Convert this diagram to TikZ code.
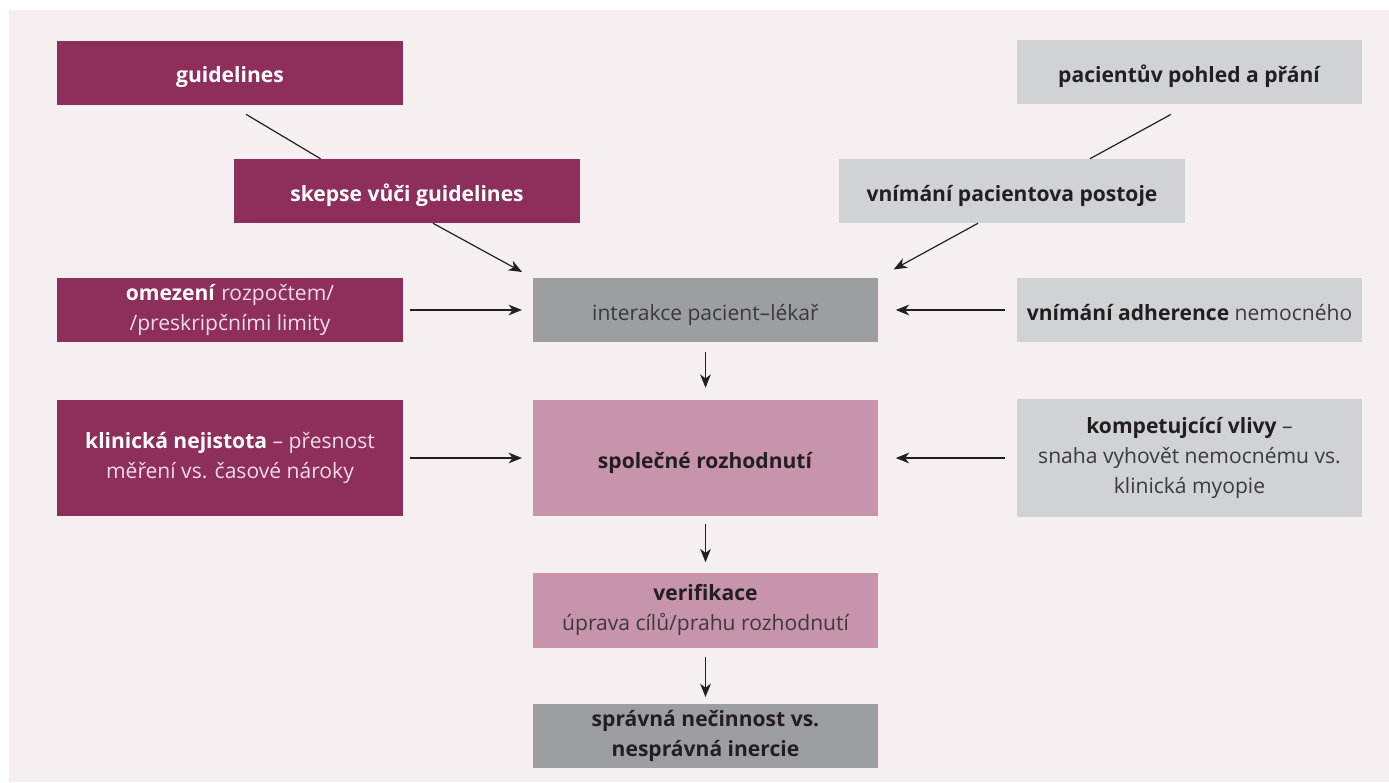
\documentclass[tikz,border=0pt]{standalone}
\usepackage{fontspec}
\setmainfont{Open Sans}
\usetikzlibrary{arrows.meta, calc}

\definecolor{wine}{HTML}{8E2F5B}
\definecolor{rose}{HTML}{C794AB}
\definecolor{lightgrey}{HTML}{D1D2D4}
\definecolor{midgrey}{HTML}{9D9EA0}
\definecolor{panel}{HTML}{F5EFF1}
\definecolor{paletext}{HTML}{EFDCE5}
\definecolor{darktext}{HTML}{231F20}
\definecolor{softtext}{HTML}{3C3A3B}

\newcommand{\wbold}[1]{\textcolor{white}{\textbf{#1}}}
\newcommand{\dbold}[1]{\textcolor{darktext}{\textbf{#1}}}

\tikzset{
    box/.style={inner sep=2pt, minimum width=259pt, minimum height=48pt,
        align=center, font=\fontsize{15.8}{22.5}\selectfont,
        execute at begin node={\rule[-4pt]{0pt}{23pt}}},
    winebox/.style={box, fill=wine, text=paletext},
    greybox/.style={box, fill=lightgrey, text=softtext},
    rosebox/.style={box, fill=rose, text=softtext},
    midbox/.style={box, fill=midgrey, text=softtext},
    link/.style={line width=0.9pt, draw=darktext},
    arrow/.style={link, -{Stealth[length=10pt, width=8pt, inset=3pt]}}
}

\begin{document}
\begin{tikzpicture}[x=0.75pt, y=-0.75pt]
    \useasboundingbox (0,0) rectangle (1389,782);
    \fill[white] (0,0) rectangle (1389,782);
    \fill[panel] (9,10) rectangle (1389,782);

    % left column
    \node[winebox] (guide) at (230,72.5) {\wbold{guidelines}};
    \node[winebox] (skepse) at (407,191) {\wbold{skepse vůči guidelines}};
    \node[winebox] (omezeni) at (230,310) {\wbold{omezení} rozpočtem/\\/preskripčními limity};
    \node[winebox, minimum height=87pt] (nejistota) at (230,458) {\wbold{klinická nejistota} – přesnost\\měření vs. časové nároky};

    % right column
    \node[greybox] (pohled) at (1189.5,72) {\dbold{pacientův pohled a přání}};
    \node[greybox] (postoj) at (1012,191) {\dbold{vnímání pacientova postoje}};
    \node[greybox] (adherence) at (1189.5,310) {\dbold{vnímání adherence} nemocného};
    \node[greybox, minimum height=88pt] (vlivy) at (1189.5,458) {\dbold{kompetujcící vlivy} –\\snaha vyhovět nemocnému vs.\\klinická myopie};

    % middle column
    \node[midbox] (interakce) at (705.5,310) {interakce pacient–lékař};
    \node[rosebox, minimum height=87pt] (rozhodnuti) at (705.5,458) {\dbold{společné rozhodnutí}};
    \node[rosebox, minimum height=56pt] (verifikace) at (705.5,610.5) {\dbold{verifikace}\\úprava cílů/prahu rozhodnutí};
    \node[midbox] (spravna) at (705.5,736) {\dbold{správná nečinnost vs.}\\\dbold{nesprávná inercie}};

    % connectors
    \draw[link, shorten <=14pt] (guide.south) -- ($(skepse.north west)!.25!(skepse.north east)$);
    \draw[link, shorten <=16pt] (pohled.south) -- ($(postoj.north)+(78,0)$);
    \draw[arrow, shorten >=9pt] ($(skepse.south)+(26,0)$) -- (interakce.north west);
    \draw[arrow, shorten >=13pt] ($(postoj.south)-(34,0)$) -- (interakce.north east);
    \draw[arrow, shorten <=5pt, shorten >=8pt] (omezeni.east) -- (interakce.west);
    \draw[arrow, shorten <=9pt, shorten >=13pt] (adherence.west) -- (interakce.east);
    \draw[arrow, shorten <=5pt, shorten >=8pt] (nejistota.east) -- (rozhodnuti.west);
    \draw[arrow, shorten <=9pt, shorten >=13pt] (vlivy.west) -- (rozhodnuti.east);
    \draw[arrow, shorten <=7.5pt, shorten >=9pt] (interakce.south) -- (rozhodnuti.north);
    \draw[arrow, shorten <=6pt, shorten >=8pt] (rozhodnuti.south) -- (verifikace.north);
    \draw[arrow, shorten <=7pt, shorten >=5pt] (verifikace.south) -- (spravna.north);
\end{tikzpicture}
\end{document}
